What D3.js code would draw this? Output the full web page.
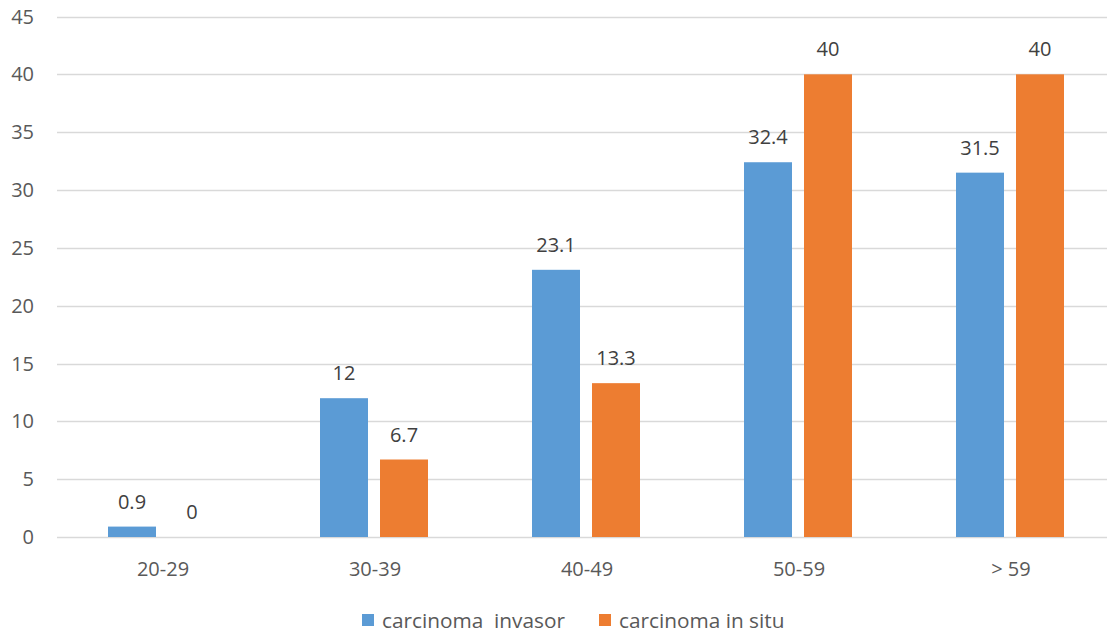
<!DOCTYPE html>
<html>
<head>
<meta charset="utf-8">
<script src="https://cdn.jsdelivr.net/npm/d3@7"></script>
<style>
  html, body { margin: 0; padding: 0; background: #fff; }
  svg { display: block; font-family: "Open Sans", "Noto Sans", sans-serif; }
</style>
</head>
<body>
<svg id="chart" width="1107" height="635"></svg>
<script>
// Age groups and percentages per carcinoma type
const categories = ["20-29", "30-39", "40-49", "50-59", "> 59"];
const invasor = [0.9, 12, 23.1, 32.4, 31.5];
const inSitu = [0, 6.7, 13.3, 40, 40];
const seriesNames = ["carcinoma  invasor", "carcinoma in situ"];
const yTicks = [0, 5, 10, 15, 20, 25, 30, 35, 40, 45];

const colors = ["#5B9BD5", "#ED7D31"];
const series = [invasor, inSitu];

const svg = d3.select("#chart");
const W = 1107;
const plotLeft = 57, step = 212;

const x = d3.scaleBand().domain(categories).range([plotLeft, plotLeft + step * categories.length]);
const y = d3.scaleLinear().domain([0, 45]).range([537, 16.5]);

const inner = d3.scaleBand().domain([0, 1]).range([51, 159]).paddingInner(0.2);

// horizontal gridlines
svg.append("g").selectAll("line").data(yTicks).join("line")
  .attr("x1", plotLeft).attr("x2", W)
  .attr("y1", d => Math.round(y(d)) + 0.5).attr("y2", d => Math.round(y(d)) + 0.5)
  .attr("stroke", "#D9D9D9").attr("stroke-width", 1.3);

// y tick labels
svg.append("g").selectAll("text").data(yTicks).join("text")
  .attr("x", 34).attr("y", d => y(d) + 7)
  .attr("text-anchor", "end")
  .attr("font-size", 20).attr("fill", "#595959")
  .text(d => d);

// bars and value labels
series.forEach((vals, si) => {
  const g = svg.append("g");
  g.selectAll("rect").data(vals).join("rect")
    .attr("x", (d, i) => x(categories[i]) + inner(si))
    .attr("width", inner.bandwidth())
    .attr("y", d => y(d))
    .attr("height", d => y(0) - y(d))
    .attr("fill", colors[si]);
  g.selectAll("text").data(vals).join("text")
    .attr("x", (d, i) => x(categories[i]) + inner(si) + inner.bandwidth() / 2)
    .attr("y", d => y(d) - 18)
    .attr("text-anchor", "middle")
    .attr("font-size", 20).attr("fill", "#404040")
    .text(d => d);
});

// category labels
svg.append("g").selectAll("text").data(categories).join("text")
  .attr("x", d => x(d) + x.bandwidth() / 2)
  .attr("y", 576)
  .attr("text-anchor", "middle")
  .attr("font-size", 20).attr("fill", "#595959")
  .text(d => d);

// legend
const legendX = [362, 599];
const legend = svg.append("g");
seriesNames.forEach((name, i) => {
  legend.append("rect")
    .attr("x", legendX[i]).attr("y", 614).attr("width", 12).attr("height", 12)
    .attr("fill", colors[i]);
  legend.append("text")
    .attr("x", legendX[i] + 20).attr("y", 628)
    .attr("font-size", 20.8).attr("fill", "#595959")
    .style("white-space", "pre")
    .text(name);
});
</script>
</body>
</html>
